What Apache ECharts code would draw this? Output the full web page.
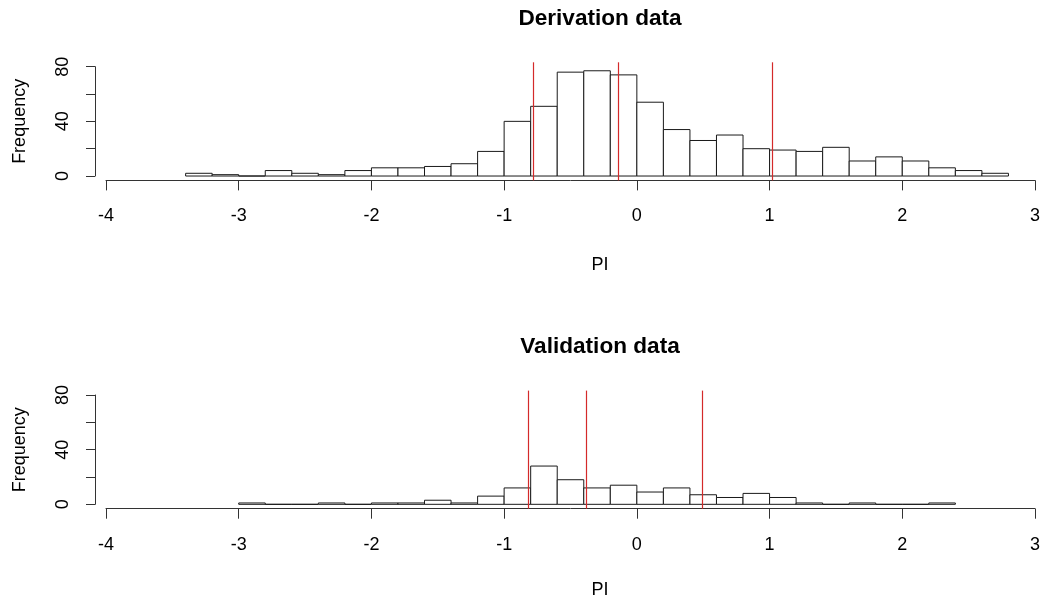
<!DOCTYPE html>
<html>
<head>
<meta charset="utf-8">
<script src="https://cdn.jsdelivr.net/npm/echarts@6/dist/echarts.min.js"></script>
<style>
html,body{margin:0;padding:0;background:#fff;}
#chart{width:1043px;height:600px;}
</style>
</head>
<body>
<div id="chart"></div>
<script>
// ---------- data ----------
var binWidth = 0.2;
var derivBinStarts = [-3.4,-3.2,-3.0,-2.8,-2.6,-2.4,-2.2,-2.0,-1.8,-1.6,-1.4,-1.2,-1.0,-0.8,-0.6,-0.4,-0.2,0.0,0.2,0.4,0.6,0.8,1.0,1.2,1.4,1.6,1.8,2.0,2.2,2.4,2.6];
var derivCounts    = [2,1,0,4,2,1,4,6,6,7,9,18,40,51,76,77,74,54,34,26,30,20,19,18,21,11,14,11,6,4,2];
var derivCuts = [-0.775, -0.145, 1.023];

var validBinStarts = [-3.0,-2.8,-2.6,-2.4,-2.2,-2.0,-1.8,-1.6,-1.4,-1.2,-1.0,-0.8,-0.6,-0.4,-0.2,0.0,0.2,0.4,0.6,0.8,1.0,1.2,1.4,1.6,1.8,2.0,2.2];
var validCounts    = [1,0,0,1,0,1,1,3,1,6,12,28,18,12,14,9,12,7,5,8,5,1,0,1,0,0,1];
var validCuts = [-0.82, -0.375, 0.49];

var titles = ['Derivation data', 'Validation data'];
var xName = 'PI';
var yName = 'Frequency';
var xTicks = [-4, 3, 1];   // min, max, interval
var yTicks = [0, 80, 20];  // min, max, interval

// ---------- helpers ----------
var FONT = '"Liberation Sans", Arial, sans-serif';
var AX = '#333';

function histData(starts, counts) {
  return starts.map(function (s, i) { return [s, s + binWidth, counts[i]]; });
}
function histItem(params, api) {
  var x0 = api.value(0), x1 = api.value(1), c = api.value(2);
  var p0 = api.coord([x0, c]);
  var p1 = api.coord([x1, 0]);
  return {
    type: 'rect',
    shape: { x: p0[0], y: p0[1], width: p1[0] - p0[0], height: p1[1] - p0[1] },
    style: { fill: '#ffffff', stroke: '#1a1a1a', lineWidth: 1 }
  };
}

var panelOffset = 328.3;
var titleTops = [2, 330.5];
var xNameTops = [251, 576.5];
var grids = [], xAxes = [], yAxes = [], series = [], titleList = [];
var pad = (yTicks[1] - yTicks[0]) * 0.04;

[ [derivBinStarts, derivCounts, derivCuts], [validBinStarts, validCounts, validCuts] ].forEach(function (p, k) {
  var off = k * panelOffset;
  grids.push({ left: 95, right: 3.7, top: 66.7 + off, height: 109.3 });
  grids.push({ left: 106, right: 3.7, top: 62.3 + off, height: 118.1 });
  var gA = 2 * k, gB = 2 * k + 1;

  xAxes.push({ gridIndex: gA, type: 'value', min: xTicks[0], max: xTicks[1], show: false });
  yAxes.push({
    gridIndex: gA, type: 'value', min: yTicks[0], max: yTicks[1], interval: yTicks[2],
    name: yName, nameLocation: 'middle', nameRotate: 90, nameGap: 66,
    nameTextStyle: { fontFamily: FONT, fontSize: 18, color: '#000' },
    axisLine: { show: true, onZero: false, lineStyle: { color: AX, width: 1 } },
    axisTick: { show: true, length: 9, lineStyle: { color: AX } },
    splitLine: { show: false },
    axisLabel: {
      rotate: 90, margin: 23, fontFamily: FONT, fontSize: 18, color: '#000',
      formatter: function (v) { return v % 40 === 0 ? String(v) : ''; }
    }
  });

  xAxes.push({
    gridIndex: gB, type: 'value', min: xTicks[0], max: xTicks[1], interval: xTicks[2],
    axisLine: { show: true, onZero: false, lineStyle: { color: AX, width: 1 } },
    axisTick: { show: true, length: 10, lineStyle: { color: AX } },
    splitLine: { show: false },
    axisLabel: { margin: 27, fontFamily: FONT, fontSize: 18, color: '#000' }
  });
  yAxes.push({ gridIndex: gB, type: 'value', min: yTicks[0] - pad, max: yTicks[1] + pad, show: false });

  series.push({
    type: 'custom', xAxisIndex: k * 2 + 1, yAxisIndex: k * 2 + 1,
    renderItem: histItem, data: histData(p[0], p[1]),
    encode: { x: [0, 1], y: 2 }, silent: true
  });
  series.push({
    type: 'line', xAxisIndex: k * 2 + 1, yAxisIndex: k * 2 + 1, data: [],
    markLine: {
      silent: true, symbol: 'none', label: { show: false },
      lineStyle: { color: '#D42A2A', width: 1.2, type: 'solid' },
      data: p[2].map(function (v) { return { xAxis: v }; })
    }
  });

  titleList.push({
    text: titles[k], left: 595, textAlign: 'center', top: titleTops[k],
    textStyle: { fontFamily: FONT, fontSize: 22.6, fontWeight: 'bold', color: '#000' }
  });
  titleList.push({
    text: xName, left: 595, textAlign: 'center', top: xNameTops[k],
    textStyle: { fontFamily: FONT, fontSize: 18, fontWeight: 'normal', color: '#000' }
  });
});

var chart = echarts.init(document.getElementById('chart'), null, { renderer: 'canvas' });
chart.setOption({
  backgroundColor: '#ffffff',
  animation: false,
  title: titleList,
  grid: grids,
  xAxis: xAxes,
  yAxis: yAxes,
  series: series
});
</script>
</body>
</html>
